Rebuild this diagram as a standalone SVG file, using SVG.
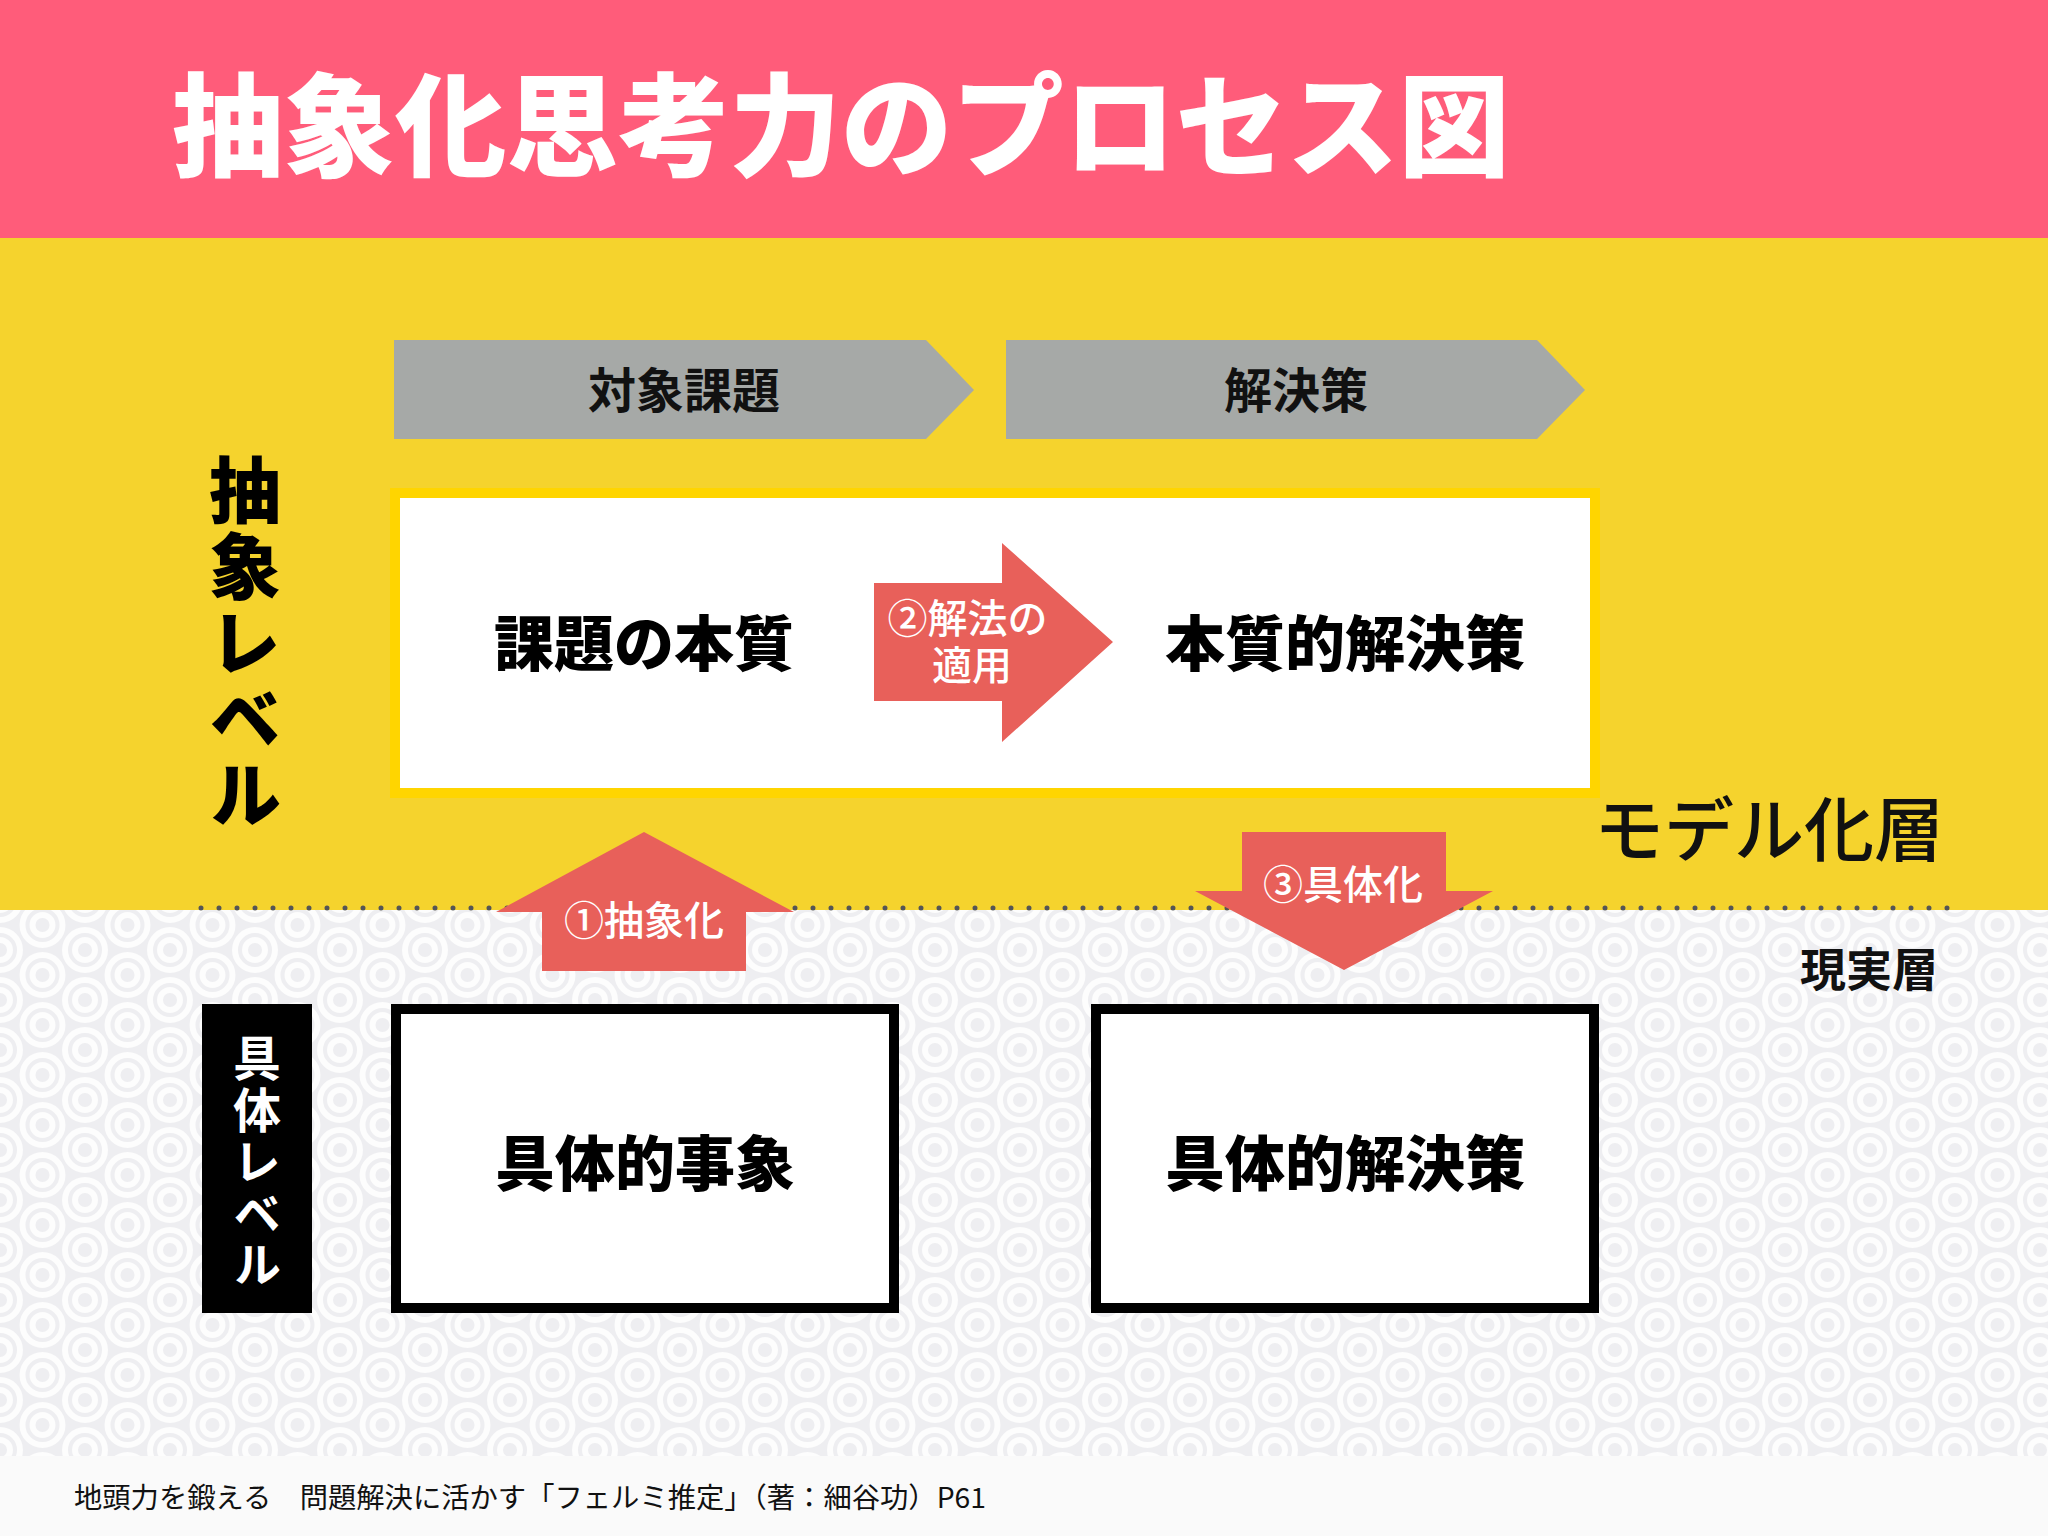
<svg xmlns="http://www.w3.org/2000/svg" width="2048" height="1536" viewBox="0 0 2048 1536">
  <style>
    .jp { font-family: "Noto Sans CJK JP", "Noto Sans", sans-serif; }
    .title { font-size: 112px; font-weight: 900; fill: #ffffff; }
    .chev { fill: #a6a9a7; }
    .chevlbl { font-size: 48px; font-weight: 700; fill: #111111; text-anchor: middle; }
    .big { font-size: 60px; font-weight: 900; fill: #000000; text-anchor: middle; }
    .arrow { fill: #e8605a; }
    .arrowlbl { font-size: 40px; font-weight: 500; fill: #ffffff; text-anchor: middle; }
    .vert { writing-mode: vertical-rl; text-orientation: upright; }
    .vlabel { font-size: 72px; font-weight: 900; fill: #000000; letter-spacing: 4px; }
    .vlabel2 { font-size: 48px; font-weight: 700; fill: #ffffff; letter-spacing: 3.5px; }
    .ring { fill: none; stroke: #fdfdfd; }
  </style>
  <defs>
    <pattern id="seigaiha" patternUnits="userSpaceOnUse" x="0" y="900" width="85" height="50">
      <rect width="85" height="50" fill="#eeeef1"/>
      <g id="motif">
        <circle class="ring" cx="0" cy="0" r="20" stroke-width="6"/>
        <circle class="ring" cx="0" cy="0" r="10" stroke-width="6"/>
      </g>
      <use href="#motif" x="85" y="0"/>
      <use href="#motif" x="42.5" y="25"/>
      <use href="#motif" x="0" y="50"/>
      <use href="#motif" x="85" y="50"/>
    </pattern>
  </defs>

  <!-- backgrounds -->
  <rect x="0" y="0" width="2048" height="240" fill="#ff5c7a"/>
  <rect x="0" y="238" width="2048" height="672" fill="#f5d32d"/>
  <rect x="0" y="910" width="2048" height="546" fill="url(#seigaiha)"/>
  <rect x="0" y="1456" width="2048" height="80" fill="#fafafa"/>

  <text class="jp title" x="172" y="168" textLength="1338" lengthAdjust="spacingAndGlyphs">抽象化思考力のプロセス図</text>

  <!-- layer separator -->
  <line x1="201" y1="908" x2="1950" y2="908" stroke="#555555" stroke-width="5" stroke-linecap="round" stroke-dasharray="0 18"/>

  <g id="header-target">
    <polygon class="chev" points="394,340 926,340 974,390 926,439 394,439"/>
    <text class="jp chevlbl" x="684" y="408">対象課題</text>
  </g>
  <g id="header-solution">
    <polygon class="chev" points="1006,340 1537,340 1585,390 1537,439 1006,439"/>
    <text class="jp chevlbl" x="1296" y="408">解決策</text>
  </g>

  <g id="abstract-level-label">
    <text class="jp vert vlabel" x="245" y="454">抽象レベル</text>
  </g>

  <g id="model-box">
    <rect x="395" y="493" width="1200" height="300" fill="#ffffff" stroke="#ffd500" stroke-width="10"/>
  </g>
  <g id="essence-problem">
    <text class="jp big" x="644" y="666">課題の本質</text>
  </g>
  <g id="essence-solution">
    <text class="jp big" x="1345" y="666">本質的解決策</text>
  </g>

  <g id="model-layer-label">
    <text class="jp" x="1594" y="856" font-size="70" font-weight="500" fill="#111111">モデル化層</text>
  </g>
  <g id="real-layer-label">
    <text class="jp" x="1800" y="986" font-size="46" font-weight="700" fill="#111111">現実層</text>
  </g>

  <g id="concrete-level-label">
    <rect x="202" y="1004" width="110" height="309" fill="#000000"/>
    <text class="jp vert vlabel2" x="257" y="1034">具体レベル</text>
  </g>

  <g id="concrete-event">
    <rect x="396" y="1009" width="498" height="299" fill="#ffffff" stroke="#000000" stroke-width="10"/>
    <text class="jp big" x="645" y="1186">具体的事象</text>
  </g>
  <g id="concrete-solution">
    <rect x="1096" y="1009" width="498" height="299" fill="#ffffff" stroke="#000000" stroke-width="10"/>
    <text class="jp big" x="1345" y="1186">具体的解決策</text>
  </g>

  <g id="connectors">
    <g id="arrow-apply">
      <polygon class="arrow" points="874,583 1002,583 1002,543 1113,642 1002,742 1002,701 874,701"/>
      <text class="jp arrowlbl">
        <tspan x="972" y="633">②解法の</tspan>
        <tspan x="972" y="680">適用</tspan>
      </text>
    </g>
    <g id="arrow-abstract">
      <polygon class="arrow" points="644,832 794,912 746,912 746,971 542,971 542,912 496,912"/>
      <text class="jp arrowlbl" x="644" y="935">①抽象化</text>
    </g>
    <g id="arrow-concrete">
      <polygon class="arrow" points="1242,832 1446,832 1446,891 1493,891 1344,970 1195,891 1242,891"/>
      <text class="jp arrowlbl" x="1343" y="899">③具体化</text>
    </g>
  </g>

  <text class="jp" x="74" y="1508" font-size="28" fill="#111111" textLength="912" lengthAdjust="spacingAndGlyphs">地頭力を鍛える　問題解決に活かす「フェルミ推定」（著：細谷功）P61</text>
</svg>
